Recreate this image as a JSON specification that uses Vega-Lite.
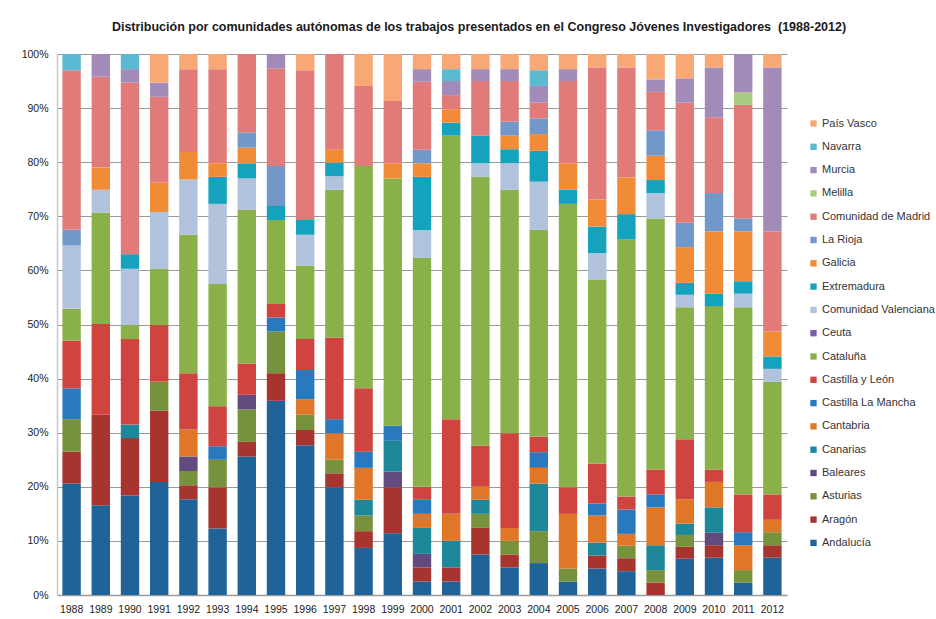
{
  "$schema": "https://vega.github.io/schema/vega-lite/v6.json",
  "width": 730,
  "height": 541,
  "autosize": {"type": "none"},
  "padding": {"left": 57, "top": 54, "right": 149, "bottom": 24},
  "background": "white",
  "title": {
    "text": "Distribución por comunidades autónomas de los trabajos presentados en el Congreso Jóvenes Investigadores \u00a0(1988-2012)",
    "font": "Liberation Sans",
    "fontSize": 12.5,
    "fontWeight": "bold",
    "color": "#1a1a1a",
    "anchor": "middle",
    "offset": 16,
    "dx": 57
  },
  "data": {
    "values": [
      {"a": "1988", "r": "Andalucía", "v": 20.6}, {"a": "1988", "r": "Aragón", "v": 5.9}, {"a": "1988", "r": "Asturias", "v": 6.0}, {"a": "1988", "r": "Castilla La Mancha", "v": 5.7}, {"a": "1988", "r": "Castilla y León", "v": 8.8}, {"a": "1988", "r": "Cataluña", "v": 5.9}, {"a": "1988", "r": "Comunidad Valenciana", "v": 11.7}, {"a": "1988", "r": "La Rioja", "v": 2.9}, {"a": "1988", "r": "Comunidad de Madrid", "v": 29.5}, {"a": "1988", "r": "Navarra", "v": 3.0},
      {"a": "1989", "r": "Andalucía", "v": 16.6}, {"a": "1989", "r": "Aragón", "v": 16.7}, {"a": "1989", "r": "Castilla y León", "v": 16.8}, {"a": "1989", "r": "Cataluña", "v": 20.6}, {"a": "1989", "r": "Comunidad Valenciana", "v": 4.2}, {"a": "1989", "r": "Galicia", "v": 4.1}, {"a": "1989", "r": "Comunidad de Madrid", "v": 16.8}, {"a": "1989", "r": "Murcia", "v": 4.2},
      {"a": "1990", "r": "Andalucía", "v": 18.4}, {"a": "1990", "r": "Aragón", "v": 10.6}, {"a": "1990", "r": "Canarias", "v": 2.5}, {"a": "1990", "r": "Castilla y León", "v": 15.8}, {"a": "1990", "r": "Cataluña", "v": 2.6}, {"a": "1990", "r": "Comunidad Valenciana", "v": 10.4}, {"a": "1990", "r": "Extremadura", "v": 2.7}, {"a": "1990", "r": "Comunidad de Madrid", "v": 31.7}, {"a": "1990", "r": "Murcia", "v": 2.5}, {"a": "1990", "r": "Navarra", "v": 2.8},
      {"a": "1991", "r": "Andalucía", "v": 20.9}, {"a": "1991", "r": "Aragón", "v": 13.2}, {"a": "1991", "r": "Asturias", "v": 5.3}, {"a": "1991", "r": "Castilla y León", "v": 10.5}, {"a": "1991", "r": "Cataluña", "v": 10.4}, {"a": "1991", "r": "Comunidad Valenciana", "v": 10.5}, {"a": "1991", "r": "Galicia", "v": 5.4}, {"a": "1991", "r": "Comunidad de Madrid", "v": 15.9}, {"a": "1991", "r": "Murcia", "v": 2.6}, {"a": "1991", "r": "País Vasco", "v": 5.3},
      {"a": "1992", "r": "Andalucía", "v": 17.7}, {"a": "1992", "r": "Aragón", "v": 2.6}, {"a": "1992", "r": "Asturias", "v": 2.6}, {"a": "1992", "r": "Baleares", "v": 2.7}, {"a": "1992", "r": "Cantabria", "v": 5.0}, {"a": "1992", "r": "Castilla y León", "v": 10.4}, {"a": "1992", "r": "Cataluña", "v": 25.6}, {"a": "1992", "r": "Comunidad Valenciana", "v": 10.2}, {"a": "1992", "r": "Galicia", "v": 5.1}, {"a": "1992", "r": "Comunidad de Madrid", "v": 15.3}, {"a": "1992", "r": "País Vasco", "v": 2.8},
      {"a": "1993", "r": "Andalucía", "v": 12.3}, {"a": "1993", "r": "Aragón", "v": 7.6}, {"a": "1993", "r": "Asturias", "v": 5.1}, {"a": "1993", "r": "Castilla La Mancha", "v": 2.5}, {"a": "1993", "r": "Castilla y León", "v": 7.4}, {"a": "1993", "r": "Cataluña", "v": 22.6}, {"a": "1993", "r": "Comunidad Valenciana", "v": 14.8}, {"a": "1993", "r": "Extremadura", "v": 5.0}, {"a": "1993", "r": "Galicia", "v": 2.5}, {"a": "1993", "r": "Comunidad de Madrid", "v": 17.4}, {"a": "1993", "r": "País Vasco", "v": 2.8},
      {"a": "1994", "r": "Andalucía", "v": 25.6}, {"a": "1994", "r": "Aragón", "v": 2.7}, {"a": "1994", "r": "Asturias", "v": 6.0}, {"a": "1994", "r": "Baleares", "v": 2.7}, {"a": "1994", "r": "Castilla y León", "v": 5.8}, {"a": "1994", "r": "Cataluña", "v": 28.4}, {"a": "1994", "r": "Comunidad Valenciana", "v": 5.8}, {"a": "1994", "r": "Extremadura", "v": 2.8}, {"a": "1994", "r": "Galicia", "v": 2.9}, {"a": "1994", "r": "La Rioja", "v": 2.8}, {"a": "1994", "r": "Comunidad de Madrid", "v": 14.5},
      {"a": "1995", "r": "Andalucía", "v": 35.9}, {"a": "1995", "r": "Aragón", "v": 5.1}, {"a": "1995", "r": "Asturias", "v": 7.7}, {"a": "1995", "r": "Castilla La Mancha", "v": 2.6}, {"a": "1995", "r": "Castilla y León", "v": 2.5}, {"a": "1995", "r": "Cataluña", "v": 15.5}, {"a": "1995", "r": "Extremadura", "v": 2.6}, {"a": "1995", "r": "La Rioja", "v": 7.4}, {"a": "1995", "r": "Comunidad de Madrid", "v": 18.0}, {"a": "1995", "r": "Murcia", "v": 2.7},
      {"a": "1996", "r": "Andalucía", "v": 27.7}, {"a": "1996", "r": "Aragón", "v": 2.8}, {"a": "1996", "r": "Asturias", "v": 2.8}, {"a": "1996", "r": "Cantabria", "v": 2.9}, {"a": "1996", "r": "Castilla La Mancha", "v": 5.4}, {"a": "1996", "r": "Castilla y León", "v": 5.7}, {"a": "1996", "r": "Cataluña", "v": 13.6}, {"a": "1996", "r": "Comunidad Valenciana", "v": 5.7}, {"a": "1996", "r": "Extremadura", "v": 2.7}, {"a": "1996", "r": "Comunidad de Madrid", "v": 27.7}, {"a": "1996", "r": "País Vasco", "v": 3.0},
      {"a": "1997", "r": "Andalucía", "v": 19.9}, {"a": "1997", "r": "Aragón", "v": 2.6}, {"a": "1997", "r": "Asturias", "v": 2.5}, {"a": "1997", "r": "Cantabria", "v": 4.9}, {"a": "1997", "r": "Castilla La Mancha", "v": 2.6}, {"a": "1997", "r": "Castilla y León", "v": 15.1}, {"a": "1997", "r": "Cataluña", "v": 27.3}, {"a": "1997", "r": "Comunidad Valenciana", "v": 2.5}, {"a": "1997", "r": "Extremadura", "v": 2.5}, {"a": "1997", "r": "Galicia", "v": 2.5}, {"a": "1997", "r": "Comunidad de Madrid", "v": 17.6},
      {"a": "1998", "r": "Andalucía", "v": 8.7}, {"a": "1998", "r": "Aragón", "v": 3.1}, {"a": "1998", "r": "Asturias", "v": 2.9}, {"a": "1998", "r": "Canarias", "v": 2.9}, {"a": "1998", "r": "Cantabria", "v": 5.9}, {"a": "1998", "r": "Castilla La Mancha", "v": 3.0}, {"a": "1998", "r": "Castilla y León", "v": 11.7}, {"a": "1998", "r": "Cataluña", "v": 41.1}, {"a": "1998", "r": "Comunidad de Madrid", "v": 14.8}, {"a": "1998", "r": "País Vasco", "v": 5.9},
      {"a": "1999", "r": "Andalucía", "v": 11.4}, {"a": "1999", "r": "Aragón", "v": 8.5}, {"a": "1999", "r": "Baleares", "v": 2.9}, {"a": "1999", "r": "Canarias", "v": 5.7}, {"a": "1999", "r": "Castilla La Mancha", "v": 2.8}, {"a": "1999", "r": "Cataluña", "v": 45.7}, {"a": "1999", "r": "Galicia", "v": 2.8}, {"a": "1999", "r": "Comunidad de Madrid", "v": 11.5}, {"a": "1999", "r": "País Vasco", "v": 8.7},
      {"a": "2000", "r": "Andalucía", "v": 2.5}, {"a": "2000", "r": "Aragón", "v": 2.6}, {"a": "2000", "r": "Baleares", "v": 2.5}, {"a": "2000", "r": "Canarias", "v": 4.8}, {"a": "2000", "r": "Cantabria", "v": 2.6}, {"a": "2000", "r": "Castilla La Mancha", "v": 2.6}, {"a": "2000", "r": "Castilla y León", "v": 2.4}, {"a": "2000", "r": "Cataluña", "v": 42.3}, {"a": "2000", "r": "Comunidad Valenciana", "v": 5.1}, {"a": "2000", "r": "Extremadura", "v": 9.9}, {"a": "2000", "r": "Galicia", "v": 2.5}, {"a": "2000", "r": "La Rioja", "v": 2.5}, {"a": "2000", "r": "Comunidad de Madrid", "v": 12.6}, {"a": "2000", "r": "Murcia", "v": 2.3}, {"a": "2000", "r": "País Vasco", "v": 2.8},
      {"a": "2001", "r": "Andalucía", "v": 2.5}, {"a": "2001", "r": "Aragón", "v": 2.6}, {"a": "2001", "r": "Canarias", "v": 4.9}, {"a": "2001", "r": "Cantabria", "v": 5.0}, {"a": "2001", "r": "Castilla y León", "v": 17.5}, {"a": "2001", "r": "Cataluña", "v": 52.4}, {"a": "2001", "r": "Extremadura", "v": 2.4}, {"a": "2001", "r": "Galicia", "v": 2.5}, {"a": "2001", "r": "Comunidad de Madrid", "v": 2.6}, {"a": "2001", "r": "Murcia", "v": 2.6}, {"a": "2001", "r": "Navarra", "v": 2.2}, {"a": "2001", "r": "País Vasco", "v": 2.8},
      {"a": "2002", "r": "Andalucía", "v": 7.5}, {"a": "2002", "r": "Aragón", "v": 4.9}, {"a": "2002", "r": "Asturias", "v": 2.6}, {"a": "2002", "r": "Canarias", "v": 2.6}, {"a": "2002", "r": "Cantabria", "v": 2.4}, {"a": "2002", "r": "Castilla y León", "v": 7.6}, {"a": "2002", "r": "Cataluña", "v": 49.7}, {"a": "2002", "r": "Comunidad Valenciana", "v": 2.5}, {"a": "2002", "r": "Extremadura", "v": 5.1}, {"a": "2002", "r": "Comunidad de Madrid", "v": 10.1}, {"a": "2002", "r": "Murcia", "v": 2.2}, {"a": "2002", "r": "País Vasco", "v": 2.8},
      {"a": "2003", "r": "Andalucía", "v": 5.1}, {"a": "2003", "r": "Aragón", "v": 2.4}, {"a": "2003", "r": "Asturias", "v": 2.5}, {"a": "2003", "r": "Cantabria", "v": 2.4}, {"a": "2003", "r": "Castilla y León", "v": 17.5}, {"a": "2003", "r": "Cataluña", "v": 45.0}, {"a": "2003", "r": "Comunidad Valenciana", "v": 4.9}, {"a": "2003", "r": "Extremadura", "v": 2.6}, {"a": "2003", "r": "Galicia", "v": 2.5}, {"a": "2003", "r": "La Rioja", "v": 2.6}, {"a": "2003", "r": "Comunidad de Madrid", "v": 7.5}, {"a": "2003", "r": "Murcia", "v": 2.2}, {"a": "2003", "r": "País Vasco", "v": 2.8},
      {"a": "2004", "r": "Andalucía", "v": 5.9}, {"a": "2004", "r": "Asturias", "v": 5.9}, {"a": "2004", "r": "Canarias", "v": 8.8}, {"a": "2004", "r": "Cantabria", "v": 2.9}, {"a": "2004", "r": "Castilla La Mancha", "v": 2.9}, {"a": "2004", "r": "Castilla y León", "v": 2.9}, {"a": "2004", "r": "Cataluña", "v": 38.2}, {"a": "2004", "r": "Comunidad Valenciana", "v": 8.9}, {"a": "2004", "r": "Extremadura", "v": 5.7}, {"a": "2004", "r": "Galicia", "v": 3.1}, {"a": "2004", "r": "La Rioja", "v": 2.9}, {"a": "2004", "r": "Comunidad de Madrid", "v": 2.9}, {"a": "2004", "r": "Murcia", "v": 3.1}, {"a": "2004", "r": "Navarra", "v": 2.9}, {"a": "2004", "r": "País Vasco", "v": 3.0},
      {"a": "2005", "r": "Andalucía", "v": 2.5}, {"a": "2005", "r": "Asturias", "v": 2.4}, {"a": "2005", "r": "Cantabria", "v": 10.1}, {"a": "2005", "r": "Castilla y León", "v": 4.9}, {"a": "2005", "r": "Cataluña", "v": 52.4}, {"a": "2005", "r": "Extremadura", "v": 2.6}, {"a": "2005", "r": "Galicia", "v": 4.9}, {"a": "2005", "r": "Comunidad de Madrid", "v": 15.2}, {"a": "2005", "r": "Murcia", "v": 2.2}, {"a": "2005", "r": "País Vasco", "v": 2.8},
      {"a": "2006", "r": "Andalucía", "v": 4.9}, {"a": "2006", "r": "Aragón", "v": 2.4}, {"a": "2006", "r": "Canarias", "v": 2.4}, {"a": "2006", "r": "Cantabria", "v": 5.0}, {"a": "2006", "r": "Castilla La Mancha", "v": 2.2}, {"a": "2006", "r": "Castilla y León", "v": 7.4}, {"a": "2006", "r": "Cataluña", "v": 34.0}, {"a": "2006", "r": "Comunidad Valenciana", "v": 4.9}, {"a": "2006", "r": "Extremadura", "v": 4.9}, {"a": "2006", "r": "Galicia", "v": 5.0}, {"a": "2006", "r": "Comunidad de Madrid", "v": 24.4}, {"a": "2006", "r": "País Vasco", "v": 2.5},
      {"a": "2007", "r": "Andalucía", "v": 4.4}, {"a": "2007", "r": "Aragón", "v": 2.4}, {"a": "2007", "r": "Asturias", "v": 2.3}, {"a": "2007", "r": "Cantabria", "v": 2.2}, {"a": "2007", "r": "Castilla La Mancha", "v": 4.5}, {"a": "2007", "r": "Castilla y León", "v": 2.4}, {"a": "2007", "r": "Cataluña", "v": 47.5}, {"a": "2007", "r": "Extremadura", "v": 4.7}, {"a": "2007", "r": "Galicia", "v": 6.8}, {"a": "2007", "r": "Comunidad de Madrid", "v": 20.3}, {"a": "2007", "r": "País Vasco", "v": 2.5},
      {"a": "2008", "r": "Aragón", "v": 2.3}, {"a": "2008", "r": "Asturias", "v": 2.3}, {"a": "2008", "r": "Canarias", "v": 4.6}, {"a": "2008", "r": "Cantabria", "v": 7.0}, {"a": "2008", "r": "Castilla La Mancha", "v": 2.4}, {"a": "2008", "r": "Castilla y León", "v": 4.6}, {"a": "2008", "r": "Cataluña", "v": 46.4}, {"a": "2008", "r": "Comunidad Valenciana", "v": 4.7}, {"a": "2008", "r": "Extremadura", "v": 2.4}, {"a": "2008", "r": "Galicia", "v": 4.5}, {"a": "2008", "r": "La Rioja", "v": 4.7}, {"a": "2008", "r": "Comunidad de Madrid", "v": 7.1}, {"a": "2008", "r": "Murcia", "v": 2.3}, {"a": "2008", "r": "País Vasco", "v": 4.7},
      {"a": "2009", "r": "Andalucía", "v": 6.7}, {"a": "2009", "r": "Aragón", "v": 2.2}, {"a": "2009", "r": "Asturias", "v": 2.2}, {"a": "2009", "r": "Canarias", "v": 2.1}, {"a": "2009", "r": "Cantabria", "v": 4.5}, {"a": "2009", "r": "Castilla y León", "v": 11.1}, {"a": "2009", "r": "Cataluña", "v": 24.4}, {"a": "2009", "r": "Comunidad Valenciana", "v": 2.3}, {"a": "2009", "r": "Extremadura", "v": 2.2}, {"a": "2009", "r": "Galicia", "v": 6.6}, {"a": "2009", "r": "La Rioja", "v": 4.5}, {"a": "2009", "r": "Comunidad de Madrid", "v": 22.2}, {"a": "2009", "r": "Murcia", "v": 4.5}, {"a": "2009", "r": "País Vasco", "v": 4.5},
      {"a": "2010", "r": "Andalucía", "v": 6.9}, {"a": "2010", "r": "Aragón", "v": 2.3}, {"a": "2010", "r": "Baleares", "v": 2.3}, {"a": "2010", "r": "Canarias", "v": 4.7}, {"a": "2010", "r": "Cantabria", "v": 4.7}, {"a": "2010", "r": "Castilla y León", "v": 2.3}, {"a": "2010", "r": "Cataluña", "v": 30.2}, {"a": "2010", "r": "Extremadura", "v": 2.3}, {"a": "2010", "r": "Galicia", "v": 11.5}, {"a": "2010", "r": "La Rioja", "v": 7.1}, {"a": "2010", "r": "Comunidad de Madrid", "v": 14.0}, {"a": "2010", "r": "Murcia", "v": 9.2}, {"a": "2010", "r": "País Vasco", "v": 2.5},
      {"a": "2011", "r": "Andalucía", "v": 2.3}, {"a": "2011", "r": "Asturias", "v": 2.3}, {"a": "2011", "r": "Cantabria", "v": 4.6}, {"a": "2011", "r": "Castilla La Mancha", "v": 2.4}, {"a": "2011", "r": "Castilla y León", "v": 7.0}, {"a": "2011", "r": "Cataluña", "v": 34.6}, {"a": "2011", "r": "Comunidad Valenciana", "v": 2.5}, {"a": "2011", "r": "Extremadura", "v": 2.3}, {"a": "2011", "r": "Galicia", "v": 9.2}, {"a": "2011", "r": "La Rioja", "v": 2.4}, {"a": "2011", "r": "Comunidad de Madrid", "v": 21.0}, {"a": "2011", "r": "Melilla", "v": 2.3}, {"a": "2011", "r": "Murcia", "v": 7.1},
      {"a": "2012", "r": "Andalucía", "v": 6.9}, {"a": "2012", "r": "Aragón", "v": 2.3}, {"a": "2012", "r": "Asturias", "v": 2.4}, {"a": "2012", "r": "Cantabria", "v": 2.3}, {"a": "2012", "r": "Castilla y León", "v": 4.7}, {"a": "2012", "r": "Cataluña", "v": 20.8}, {"a": "2012", "r": "Comunidad Valenciana", "v": 2.4}, {"a": "2012", "r": "Extremadura", "v": 2.3}, {"a": "2012", "r": "Galicia", "v": 4.6}, {"a": "2012", "r": "Comunidad de Madrid", "v": 18.5}, {"a": "2012", "r": "Murcia", "v": 30.3}, {"a": "2012", "r": "País Vasco", "v": 2.5}
    ]
  },
  "transform": [
    {"calculate": "indexof(['Andalucía','Aragón','Asturias','Baleares','Canarias','Cantabria','Castilla La Mancha','Castilla y León','Cataluña','Ceuta','Comunidad Valenciana','Extremadura','Galicia','La Rioja','Comunidad de Madrid','Melilla','Murcia','Navarra','País Vasco'], datum.r)", "as": "o"}
  ],
  "mark": {"type": "bar"},
  "encoding": {
    "x": {
      "field": "a",
      "type": "ordinal",
      "title": null,
      "scale": {"paddingInner": 0.37, "paddingOuter": 0.185},
      "axis": {
        "labelAngle": 0,
        "labelFont": "Liberation Sans",
        "labelFontSize": 10.5,
        "labelColor": "#222222",
        "labelPadding": 9,
        "ticks": false,
        "domainColor": "#9a9a9a",
        "domainWidth": 1.5
      }
    },
    "y": {
      "field": "v",
      "type": "quantitative",
      "stack": "normalize",
      "title": null,
      "scale": {"domain": [0, 1], "nice": false},
      "axis": {
        "values": [0, 0.1, 0.2, 0.3, 0.4, 0.5, 0.6, 0.7, 0.8, 0.9, 1],
        "format": ".0%",
        "labelFont": "Liberation Sans",
        "labelFontSize": 10.5,
        "labelColor": "#222222",
        "labelPadding": 9,
        "ticks": false,
        "grid": true,
        "gridColor": "#9a9a9a",
        "gridWidth": 1,
        "domainColor": "#c8c8c8",
        "domainWidth": 1.5
      }
    },
    "color": {
      "field": "r",
      "type": "nominal",
      "scale": {
        "domain": ["Andalucía","Aragón","Asturias","Baleares","Canarias","Cantabria","Castilla La Mancha","Castilla y León","Cataluña","Ceuta","Comunidad Valenciana","Extremadura","Galicia","La Rioja","Comunidad de Madrid","Melilla","Murcia","Navarra","País Vasco"],
        "range": ["#1f6398","#a8342f","#77923c","#634a7e","#1e8799","#e07628","#2879be","#d0443f","#8ab04a","#7d5ba6","#b1c2dc","#14a2bc","#f28b36","#7298c9","#e07b7a","#a9cb81","#a28ab9","#5bb9d2","#f7a874"]
      },
      "legend": {
        "title": null,
        "orient": "none",
        "legendX": 751,
        "legendY": 64,
        "symbolType": "square",
        "symbolSize": 40,
        "symbolStrokeWidth": 0,
        "labelFont": "Liberation Sans",
        "labelFontSize": 11,
        "labelColor": "#333333",
        "labelOffset": 3,
        "rowPadding": 11.3,
        "labelLimit": 200,
        "values": ["País Vasco","Navarra","Murcia","Melilla","Comunidad de Madrid","La Rioja","Galicia","Extremadura","Comunidad Valenciana","Ceuta","Cataluña","Castilla y León","Castilla La Mancha","Cantabria","Canarias","Baleares","Asturias","Aragón","Andalucía"]
      }
    },
    "order": {"field": "o", "type": "quantitative"}
  },
  "config": {"view": {"stroke": null}}
}
